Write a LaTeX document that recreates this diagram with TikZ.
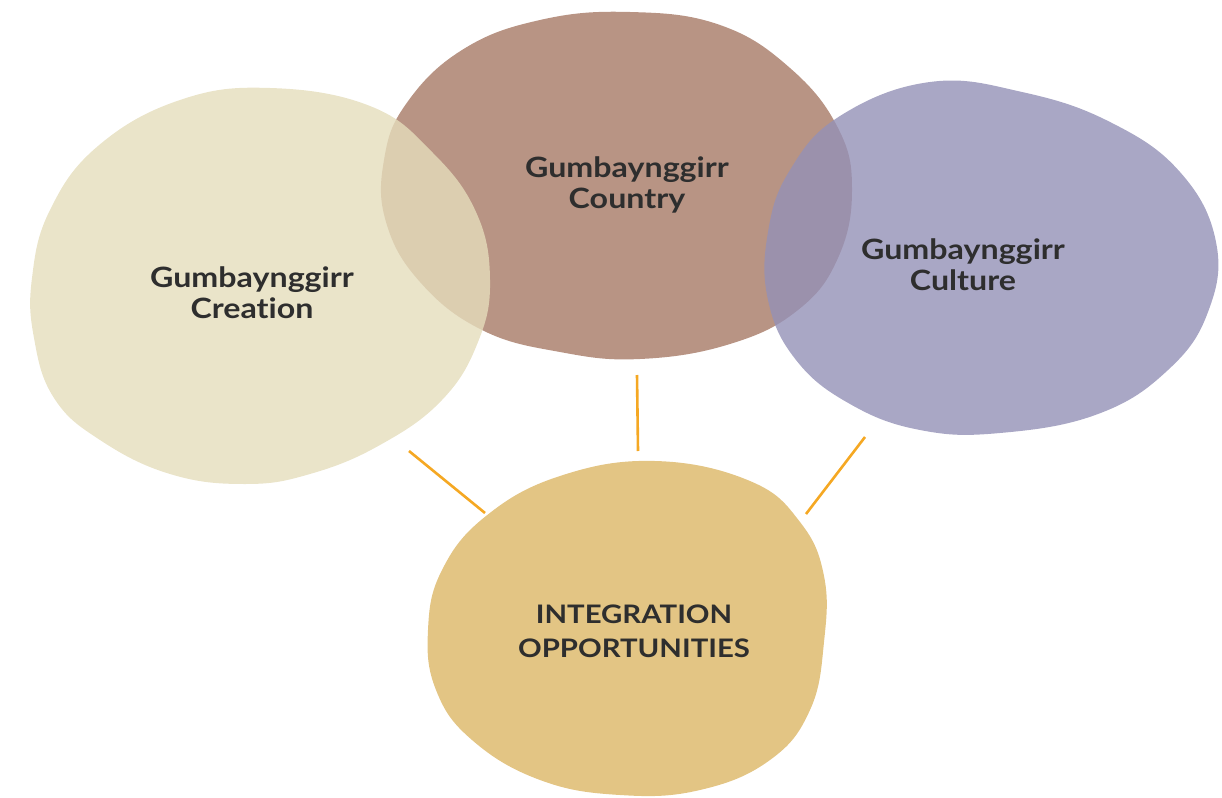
\documentclass[tikz,border=0pt]{standalone}
\usepackage{fontspec}
\setmainfont{Lato}
\newfontfamily\lblfont[FakeStretch=1.15,Ligatures=NoCommon]{Lato}
\definecolor{creation}{RGB}{229,221,188}
\definecolor{country}{RGB}{184,148,132}
\definecolor{culture}{RGB}{148,145,183}
\definecolor{integ}{RGB}{227,197,132}
\definecolor{linkc}{RGB}{245,168,35}
\definecolor{txt}{RGB}{46,46,46}
\begin{document}
\begin{tikzpicture}[x=1pt,y=-1pt,
  blob/.style={draw=none},
  lbl/.style={text=txt,font=\lblfont\fontsize{28}{31}\selectfont\bfseries,align=center},
  link/.style={draw=linkc,line width=2.6pt}]
\useasboundingbox (0,0) rectangle (1222,797);
% Country
\path[blob,fill=country] plot[smooth cycle,tension=0.7] coordinates {
 (630,12) (720,25) (790,68) (838,128) (852,190) (838,258) (798,310) (730,344) (640,359) (560,352) (482,330) (420,282) (386,222) (384,160) (406,104) (462,50) (540,20)};
% Creation
\path[blob,fill=creation,fill opacity=0.8] plot[smooth cycle,tension=0.7] coordinates {
 (270,88) (370,106) (432,152) (476,212) (490,280) (478,342) (442,400) (380,445) (310,474) (245,484) (170,474) (100,440) (54,398) (34,338) (32,278) (50,210) (98,146) (180,100)};
% Culture
\path[blob,fill=culture,fill opacity=0.8] plot[smooth cycle,tension=0.7] coordinates {
 (930,82) (1022,92) (1110,122) (1180,172) (1216,242) (1208,312) (1168,370) (1098,414) (1000,433) (920,430) (850,404) (796,360) (768,300) (768,232) (790,170) (840,116)};
% Integration
\path[blob,fill=integ] plot[smooth cycle,tension=0.7] coordinates {
 (655,461) (750,481) (800,522) (824,576) (824,642) (810,710) (770,760) (700,790) (620,795) (540,780) (472,740) (436,690) (428,630) (442,570) (486,516) (560,476)};
% labels
\node[lbl] (cre) at (252,293) {Gumbaynggirr\\Creation};
\node[lbl] (cou) at (627,185) {Gumbaynggirr\\Country};
\node[lbl] (cul) at (963,265) {Gumbaynggirr\\Culture};
\node[lbl,font=\lblfont\fontsize{25.5}{34}\selectfont\bfseries] (int) at (634,631) {INTEGRATION\\OPPORTUNITIES};
% connectors
\coordinate (l1a) at (409,451); \coordinate (l1b) at (485,513);
\coordinate (l2a) at (637,375); \coordinate (l2b) at (638,451);
\coordinate (l3a) at (865,437); \coordinate (l3b) at (806,514);
\draw[link] (l1a) -- (l1b);
\draw[link] (l2a) -- (l2b);
\draw[link] (l3a) -- (l3b);
\end{tikzpicture}
\end{document}
